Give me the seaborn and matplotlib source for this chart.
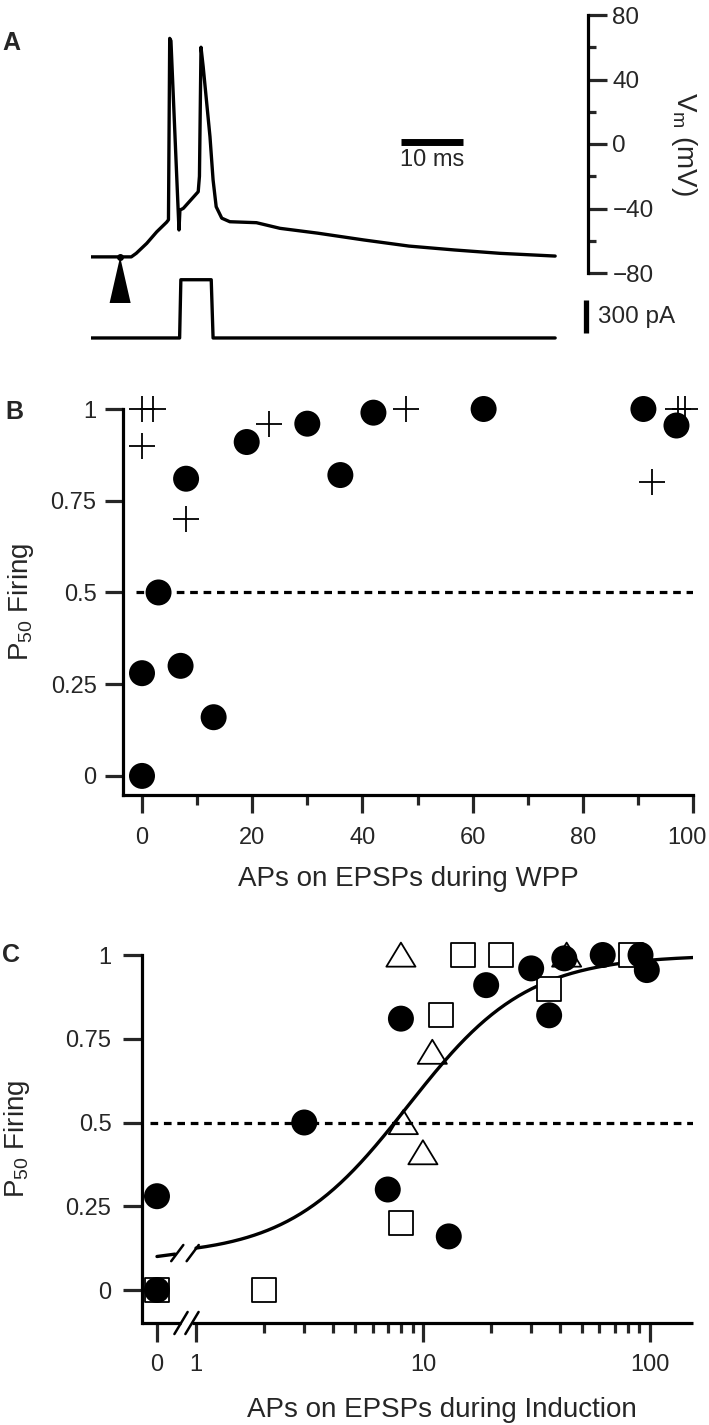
import numpy as np
import matplotlib
matplotlib.use('Agg')
import matplotlib.pyplot as plt
from matplotlib.path import Path
from matplotlib.transforms import ScaledTranslation
from matplotlib.ticker import FixedLocator, FixedFormatter, NullFormatter
import seaborn as sns

# ---- Panel A: whole-cell trace (time in ms, Vm in mV)
trace_t = [0.0, 6.5, 7.3, 9.0, 10.6, 12.2, 12.5, 12.7, 12.9, 14.2, 14.35, 14.9,
           17.3, 17.5, 17.75, 18.1, 19.2, 19.7, 20.2, 21.1, 22.4, 26.7, 30.5,
           36.6, 44.0, 51.3, 58.6, 66.0, 74.9]
trace_v = [-70, -70, -67.8, -61.6, -54.5, -48.5, -47, 65.5, 64, -53.3, -41, -39.9,
           -29.6, -20, 60, 48, 4.5, -22.3, -38.9, -46, -48.2, -48.8, -52.3,
           -55.3, -59.5, -63.3, -65.7, -67.8, -69.5]
# injected current step (pA)
pulse_t = [0.0, 14.3, 14.5, 19.4, 19.7, 74.9]
pulse_i = [0, 0, 530, 530, 0, 0]
stim_time = 4.7
vm_ticks = [-80, -40, 0, 40, 80]
vm_minor = [-60, -20, 20, 60]

# ---- Panels B / C: P50 firing vs APs on EPSPs
circle_aps = [0, 0, 3, 7, 8, 13, 19, 30, 36, 42, 62, 91, 97]
circle_p50 = [0.0, 0.28, 0.5, 0.3, 0.81, 0.16, 0.91, 0.96, 0.82, 0.99, 1.0, 1.0, 0.955]
cross_aps = [0, 2, 0, 8, 23, 48, 92.5, 97.3, 98.5]
cross_p50 = [1.0, 1.0, 0.9, 0.7, 0.96, 1.0, 0.8, 1.0, 1.0]
square_aps = [0, 2, 8, 12, 15, 22, 36, 83]
square_p50 = [0.0, 0.0, 0.2, 0.82, 1.0, 1.0, 0.9, 1.0]
triangle_aps = [8, 8.2, 10, 11, 43]
triangle_p50 = [1.0, 0.5, 0.41, 0.71, 1.0]
# Hill fit shown in C
fit_base, fit_x50, fit_hill = 0.1, 8.6, 1.65

p_ticks = [0, 0.25, 0.5, 0.75, 1]
p_labels = ['0', '0.25', '0.5', '0.75', '1']
wpp_ticks = [0, 20, 40, 60, 80, 100]
wpp_minor = [10, 30, 50, 70, 90]
ind_ticks = [0, 1, 10, 100]
ind_minor = [2, 3, 4, 5, 6, 7, 8, 9, 20, 30, 40, 50, 60, 70, 80, 90]

sns.set_style('ticks')
plt.rcParams['font.family'] = ['Liberation Sans', 'DejaVu Sans']
plt.rcParams['mathtext.fontset'] = 'custom'
plt.rcParams['mathtext.rm'] = 'Liberation Sans'
plt.rcParams['mathtext.it'] = 'Liberation Sans:italic'
plt.rcParams['axes.linewidth'] = 2.3
plt.rcParams['axes.edgecolor'] = 'black'

TICK_FS = 17
LABEL_FS = 20

fig = plt.figure(figsize=(7.09, 14.25), dpi=100)
W, H = 709.0, 1425.0


def px_axes(x0, x1, y0, y1):
    # axes from pixel box (top-left origin)
    return fig.add_axes([x0 / W, 1 - y1 / H, (x1 - x0) / W, (y1 - y0) / H])


# ================= Panel A =================
axv = px_axes(91, 588, 15, 273)
axi = px_axes(91, 588, 275, 345)
for a in (axv, axi):
    a.set_facecolor('none')

sns.lineplot(x=trace_t, y=trace_v, ax=axv, color='black', lw=2.4, sort=False,
             estimator=None)
axv.set_xlim(0, 80.2)
axv.set_ylim(-80, 80)
for s in ('left', 'top', 'bottom'):
    axv.spines[s].set_visible(False)
axv.set_xticks([])
axv.yaxis.tick_right()
axv.yaxis.set_label_position('right')
axv.set_yticks(vm_ticks)
axv.set_yticklabels(['\u221280', '\u221240', '0', '40', '80'])
axv.yaxis.set_minor_locator(FixedLocator(vm_minor))
axv.tick_params(axis='y', which='major', direction='out', length=13.5, width=2.3,
                labelsize=17.5, pad=4)
axv.tick_params(axis='y', which='minor', direction='out', length=6, width=2.3)
axv.set_ylabel(r'V$_{\mathrm{m}}$ (mV)', fontsize=LABEL_FS, rotation=-90, va='center')
axv.yaxis.set_label_coords(1.193, 0.5)
axv.set_xlabel('')

# 10 ms scale bar
axv.plot([50, 60], [1, 1], color='black', lw=5, solid_capstyle='butt')
axv.text(55, -3, '10 ms', ha='center', va='top', fontsize=17)

# stimulus arrowhead
axv.fill([stim_time, stim_time - 1.7, stim_time + 1.7],
         [-70, -98.6, -98.6], color='black', clip_on=False, lw=0)
axv.plot([stim_time], [-70], 'o', color='black', ms=4, clip_on=False)

sns.lineplot(x=pulse_t, y=pulse_i, ax=axi, color='black', lw=2.4, sort=False,
             estimator=None)
axi.set_xlim(0, 80.2)
axi.set_ylim(-64, 573)
axi.axis('off')
axi.plot([79.8, 79.8], [45, 345], color='black', lw=3.8, solid_capstyle='butt',
         clip_on=False)
axi.text(81.8, 195, '300 pA', ha='left', va='center', fontsize=17.5, clip_on=False)

fig.text(11 / W, 1 - 43 / H, 'A', fontsize=18, fontweight='bold', ha='center', va='center')

# ================= Panel B =================
axb = px_axes(123, 693, 409, 795)
sns.despine(ax=axb)
axb.axhline(0.5, xmin=0.023, xmax=1, color='black', lw=2.3, ls=(0, (2.4, 1.8)))
sns.scatterplot(x=circle_aps, y=circle_p50, ax=axb, marker='o', s=350, color='black',
                edgecolor='none', clip_on=False, zorder=3)
sns.scatterplot(x=cross_aps, y=cross_p50, ax=axb, marker='+', s=330, color='black',
                linewidth=1.3, clip_on=False, zorder=4)
axb.set_xlim(-3.45, 100)
axb.set_ylim(-0.052, 1)
axb.set_xticks(wpp_ticks)
axb.xaxis.set_minor_locator(FixedLocator(wpp_minor))
axb.set_yticks(p_ticks)
axb.set_yticklabels(p_labels)
axb.tick_params(axis='both', which='major', length=13, width=2.3, labelsize=TICK_FS)
axb.tick_params(axis='x', which='major', pad=10)
axb.tick_params(axis='y', which='major', pad=6)
axb.tick_params(axis='x', which='minor', length=7, width=2.3)
# last label sits at the figure edge: nudge it left a little
last = axb.get_xticklabels()[-1]
last.set_transform(last.get_transform() + ScaledTranslation(-6 / 100, 0, fig.dpi_scale_trans))
axb.set_xlabel('APs on EPSPs during WPP', fontsize=LABEL_FS, va='top')
axb.xaxis.set_label_coords(0.5, -0.185)
axb.set_ylabel(r'P$_{\mathrm{50}}$ Firing', fontsize=LABEL_FS)
axb.yaxis.set_label_coords(-0.152, 0.5)

fig.text(14 / W, 1 - 412 / H, 'B', fontsize=18, fontweight='bold', ha='center', va='center')

# ================= Panel C =================
ZERO_POS = -0.172


def fwd(x):
    x = np.asarray(x, dtype=float)
    return np.where(x >= 1, np.log10(np.clip(x, 1, None)), ZERO_POS * (1 - x))


def inv(p):
    p = np.asarray(p, dtype=float)
    return np.where(p >= 0, 10 ** np.clip(p, 0, None), 1 + p / -ZERO_POS)


def hill(x):
    x = np.asarray(x, dtype=float)
    return fit_base + (1 - fit_base) * x ** fit_hill / (fit_x50 ** fit_hill + x ** fit_hill)


axc = px_axes(142, 693, 955, 1323)
axc.set_xscale('function', functions=(fwd, inv))
axc.set_xlim(-0.384, 155)
axc.set_ylim(-0.0985, 1)
sns.despine(ax=axc)
axc.spines['bottom'].set_visible(False)

axc.axhline(0.5, xmin=0.0145, xmax=1, color='black', lw=2.3, ls=(0, (2.4, 1.8)))

stub_x = np.array([0, 0.46])
fit_x = np.geomspace(1, 155, 300)
axc.plot(stub_x, hill(stub_x), color='black', lw=2.4)
sns.lineplot(x=fit_x, y=hill(fit_x), ax=axc, color='black', lw=2.4)

sns.scatterplot(x=square_aps, y=square_p50, ax=axc, marker='s', s=320,
                facecolor='white', edgecolor='black', linewidth=1.3, clip_on=False, zorder=3)
sns.scatterplot(x=circle_aps, y=circle_p50, ax=axc, marker='o', s=350, color='black',
                edgecolor='none', clip_on=False, zorder=4)
tri = Path([(-1, -0.8), (1, -0.8), (0, 0.85), (-1, -0.8)], closed=True)
sns.scatterplot(x=triangle_aps, y=triangle_p50, ax=axc, marker=tri, s=440,
                facecolor='none', edgecolor='black', linewidth=1.3, clip_on=False, zorder=5)

# broken x axis
tr = axc.transAxes
axc.plot([0, 0.0708], [0, 0], color='black', lw=2.3, transform=tr, clip_on=False,
         solid_capstyle='butt')
axc.plot([0.0907, 1], [0, 0], color='black', lw=2.3, transform=tr, clip_on=False,
         solid_capstyle='butt')
for cx in (0.0708, 0.0907):
    axc.plot([cx - 0.012, cx + 0.012], [-0.03, 0.03], color='black', lw=1.8,
             transform=tr, clip_on=False)
for cx in (0.064, 0.092):
    axc.plot([cx - 0.011, cx + 0.011], [0.168, 0.212], color='black', lw=1.8,
             transform=tr, clip_on=False)

axc.xaxis.set_major_locator(FixedLocator(ind_ticks))
axc.xaxis.set_major_formatter(FixedFormatter(['0', '1', '10', '100']))
axc.xaxis.set_minor_locator(FixedLocator(ind_minor))
axc.xaxis.set_minor_formatter(NullFormatter())
axc.set_yticks(p_ticks)
axc.set_yticklabels(p_labels)
axc.tick_params(axis='both', which='major', length=14, width=2.3, labelsize=TICK_FS)
axc.tick_params(axis='x', which='major', pad=8)
axc.tick_params(axis='y', which='major', pad=8)
axc.tick_params(axis='x', which='minor', length=7, width=2.3)
axc.set_xlabel('APs on EPSPs during Induction', fontsize=LABEL_FS, va='top')
axc.xaxis.set_label_coords(0.545, -0.2)
axc.set_ylabel(r'P$_{\mathrm{50}}$ Firing', fontsize=LABEL_FS)
axc.yaxis.set_label_coords(-0.2, 0.5)

fig.text(11 / W, 1 - 955 / H, 'C', fontsize=18, fontweight='bold', ha='center', va='center')

fig.savefig('out.png', dpi=100)
